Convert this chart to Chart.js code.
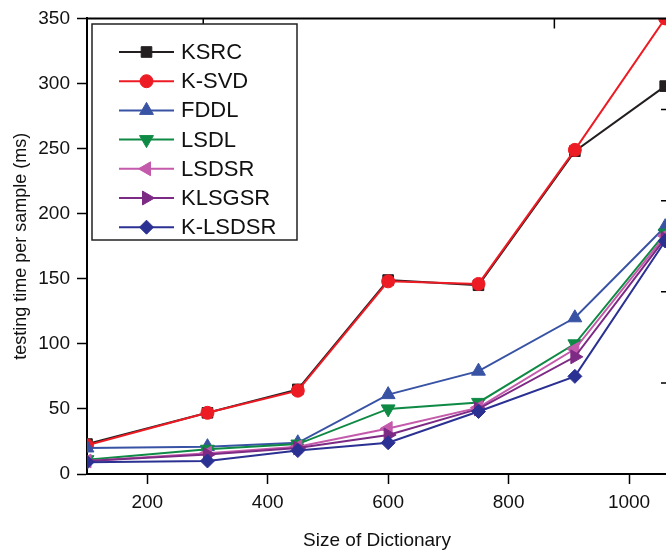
<!DOCTYPE html>
<html>
<head>
<meta charset="utf-8">
<script src="https://cdn.jsdelivr.net/npm/chart.js@4.4.1/dist/chart.umd.min.js"></script>
<style>
  html, body { margin: 0; padding: 0; background: #fff; overflow: hidden; }
  #wrap { width: 680px; height: 552px; }
</style>
</head>
<body>
<div id="wrap"><canvas id="chart" width="680" height="552"></canvas></div>
<script>
// =====================
// DATA
// =====================
const dictSizes = [100, 300, 450, 600, 750, 910, 1060];

const ksrc   = [23, 47, 65, 149, 145, 248, 298];
const ksvd   = [22, 47, 64, 148, 146, 249, 350];
const fddl   = [20, 21, 24, 61, 79, 120, 190];
const lsdl   = [11, 19, 23, 50, 55, 100, 185];
const lsdsr  = [10, 16, 21, 35, 51, 96, 183];
const klsgsr = [10, 15, 20, 30, 50, 90, 181];
const klsdsr = [9, 10, 18, 24, 48, 75, 179];

const xTickValues = [200, 400, 600, 800, 1000];
const topTickValues = [293, 876];
const rightTickValues = [70, 140, 210, 280];

const FONT = "'Liberation Sans', Arial, sans-serif";

// name, values, colour, point style, rotation, radius
const seriesDefs = [
  ["KSRC",    ksrc,   "#231f20", "rect",     0,   7.5],
  ["K-SVD",   ksvd,   "#ed1c24", "circle",   0,   6.5],
  ["FDDL",    fddl,   "#3953a4", "triangle", 0,   8],
  ["LSDL",    lsdl,   "#0f8a45", "triangle", 180, 8],
  ["LSDSR",   lsdsr,  "#c45aab", "triangle", -90, 8],
  ["KLSGSR",  klsgsr, "#7d2a85", "triangle", 90,  8],
  ["K-LSDSR", klsdsr, "#2b3192", "rectRot",  0,   7]
];

const datasets = seriesDefs.map((s, i) => ({
  label: s[0],
  data: dictSizes.map((x, j) => ({ x, y: s[1][j] })),
  borderColor: s[2],
  backgroundColor: s[2],
  pointBackgroundColor: s[2],
  pointBorderColor: s[2],
  pointStyle: s[3],
  rotation: s[4],
  pointRadius: s[5],
  pointBorderWidth: 1,
  borderWidth: 2,
  tension: 0,
  order: seriesDefs.length - i // later series drawn on top
}));

// =====================
// FRAME + LEGEND PLUGIN
// =====================
const frameAndLegend = {
  id: "frameAndLegend",
  afterDraw(chart) {
    const ctx = chart.ctx;
    const a = chart.chartArea;
    const xs = chart.scales.x, ys = chart.scales.y;
    ctx.save();
    ctx.strokeStyle = "#000";
    ctx.lineWidth = 2;
    ctx.beginPath();
    ctx.moveTo(a.left, a.top);
    ctx.lineTo(a.right, a.top);
    ctx.lineTo(a.right, a.bottom);
    ctx.stroke();

    ctx.lineWidth = 1.5;
    ctx.beginPath();
    topTickValues.forEach(v => {
      const px = xs.getPixelForValue(v);
      ctx.moveTo(px, a.top);
      ctx.lineTo(px, a.top + 10);
    });
    rightTickValues.forEach(v => {
      const py = ys.getPixelForValue(v);
      ctx.moveTo(a.right, py);
      ctx.lineTo(a.right - 6, py);
    });
    ctx.stroke();

    // legend box
    ctx.fillStyle = "#fff";
    ctx.fillRect(92, 24, 205, 216);
    ctx.lineWidth = 1.5;
    ctx.strokeStyle = "#222";
    ctx.strokeRect(92, 24, 205, 216);

    ctx.font = "22px " + FONT;
    ctx.textBaseline = "middle";
    ctx.textAlign = "left";
    seriesDefs.forEach((s, i) => {
      const y = 52 + i * 29.2;
      ctx.strokeStyle = s[2];
      ctx.fillStyle = s[2];
      ctx.lineWidth = 2;
      ctx.beginPath();
      ctx.moveTo(119, y);
      ctx.lineTo(174, y);
      ctx.stroke();
      ctx.lineWidth = 1;
      Chart.helpers.drawPoint(ctx, {
        pointStyle: s[3], rotation: s[4], radius: s[5], borderWidth: 1
      }, 146.5, y);
      ctx.fillStyle = "#111";
      ctx.fillText(s[0], 181, y + 1);
    });
    ctx.restore();
  }
};

// =====================
// CHART
// =====================
new Chart(document.getElementById("chart"), {
  type: "line",
  data: { datasets },
  plugins: [frameAndLegend],
  options: {
    responsive: false,
    animation: false,
    devicePixelRatio: 1,
    layout: { padding: { top: 13, right: 13, left: 0, bottom: 0 } },
    plugins: {
      legend: { display: false },
      tooltip: { enabled: false }
    },
    scales: {
      x: {
        type: "linear",
        min: 100,
        max: 1063,
        afterBuildTicks: s => { s.ticks = xTickValues.map(v => ({ value: v })); },
        afterFit: s => { s.height = 78; },
        border: { color: "#000", width: 2 },
        grid: { drawOnChartArea: false, drawTicks: true, tickLength: 10, tickColor: "#000", tickWidth: 1.5 },
        ticks: {
          color: "#111", padding: 7, font: { family: FONT, size: 19 },
          callback: v => String(v)
        },
        title: {
          display: true,
          text: "Size of Dictionary",
          color: "#111",
          font: { family: FONT, size: 19 },
          padding: { top: 0, bottom: 0 }
        }
      },
      y: {
        min: 0,
        max: 350,
        ticks: { stepSize: 50, color: "#111", padding: 7, font: { family: FONT, size: 19 } },
        afterFit: s => { s.width = 87; },
        border: { color: "#000", width: 2 },
        grid: { drawOnChartArea: false, drawTicks: true, tickLength: 10, tickColor: "#000", tickWidth: 1.5 },
        title: {
          display: true,
          text: "testing time per sample (ms)",
          color: "#111",
          font: { family: FONT, size: 18 },
          padding: { top: 10, bottom: 0 }
        }
      }
    }
  }
});
</script>
</body>
</html>
